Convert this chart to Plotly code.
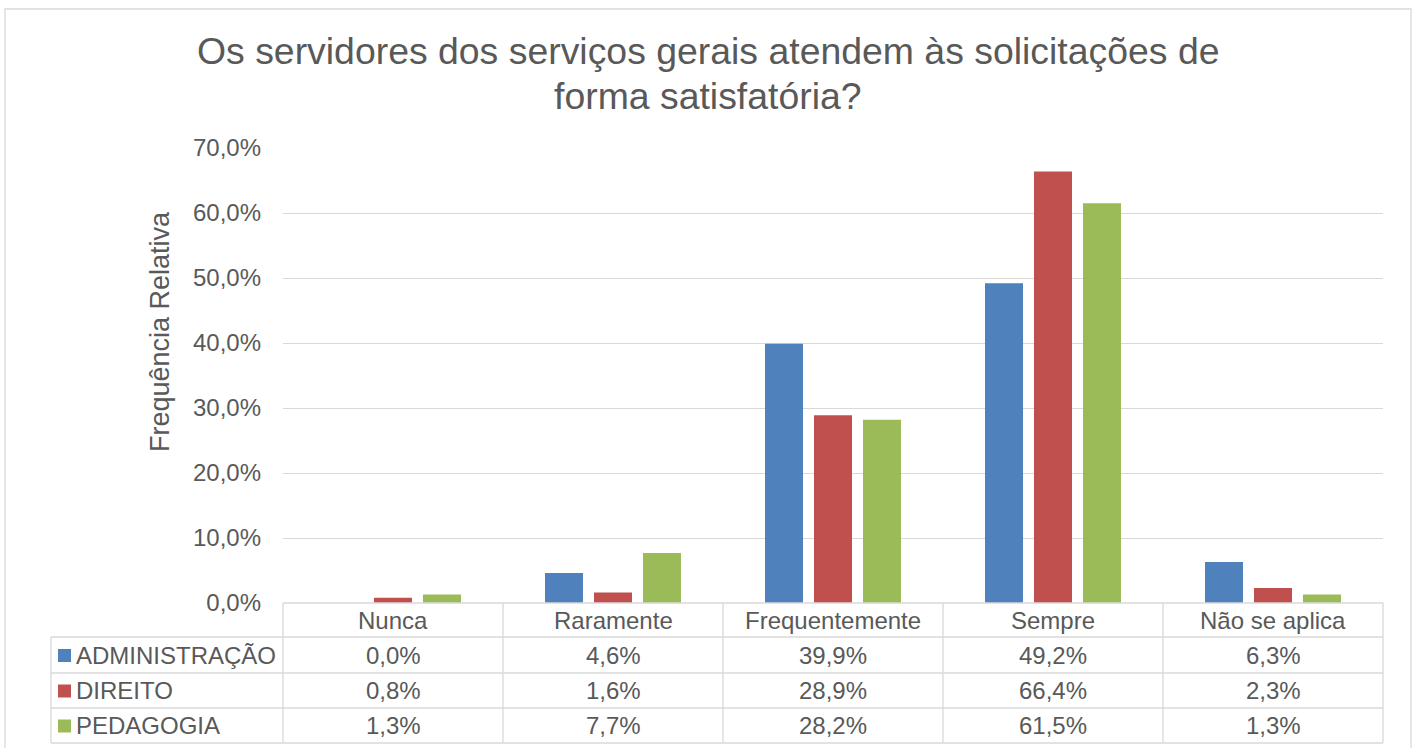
import plotly.graph_objects as go

categories = ["Nunca", "Raramente", "Frequentemente", "Sempre", "Não se aplica"]
series_names = ["ADMINISTRAÇÃO", "DIREITO", "PEDAGOGIA"]
administracao = [0.0, 4.6, 39.9, 49.2, 6.3]
direito = [0.8, 1.6, 28.9, 66.4, 2.3]
pedagogia = [1.3, 7.7, 28.2, 61.5, 1.3]
colors = ["#4F81BD", "#C0504D", "#9BBB59"]
title_lines = ["Os servidores dos serviços gerais atendem às solicitações de",
               "forma satisfatória?"]
y_title = "Frequência Relativa"

series_values = [administracao, direito, pedagogia]

W, H = 1416, 748
L, R, T, B = 283, 1383, 148, 603
FONT = "Liberation Sans, Arial, sans-serif"
TXT = "#595959"
GRID = "#D9D9D9"


def px(x):
    return (x - L) / (R - L)


def py(y):
    return (B - y) / (B - T)


def pct(v):
    return f"{v:.1f}".replace(".", ",") + "%"


fig = go.Figure()
for name, vals, col in zip(series_names, series_values, colors):
    fig.add_trace(go.Bar(x=categories, y=vals, name=name, marker_color=col,
                         marker_line_width=0))

shapes = []
ann = []

# table grid
row_y = [603, 637, 673, 708, 743]
line = dict(color=GRID, width=1.3)
shapes.append(dict(type="line", xref="paper", yref="paper", x0=px(L), x1=px(R),
                   y0=py(row_y[0]), y1=py(row_y[0]), line=line))
for yy in row_y[1:]:
    shapes.append(dict(type="line", xref="paper", yref="paper", x0=px(51), x1=px(R),
                       y0=py(yy), y1=py(yy), line=line))
for i in range(len(categories) + 1):
    xx = L + i * (R - L) / len(categories)
    shapes.append(dict(type="line", xref="paper", yref="paper", x0=px(xx), x1=px(xx),
                       y0=py(row_y[0]), y1=py(row_y[-1]), line=line))
shapes.append(dict(type="line", xref="paper", yref="paper", x0=px(51), x1=px(51),
                   y0=py(row_y[1]), y1=py(row_y[-1]), line=line))

# outer chart border
shapes.append(dict(type="rect", xref="paper", yref="paper", x0=px(5), x1=px(1411),
                   y0=py(9), y1=py(760), line=dict(color=GRID, width=1.3)))

tfont = dict(size=24, color=TXT, family=FONT)
for c in categories:
    ann.append(dict(x=c, xref="x", y=py((row_y[0] + row_y[1]) / 2), yref="paper",
                    xanchor="center", yanchor="middle",
                    text=c, showarrow=False, font=tfont))

for r, (name, vals, col) in enumerate(zip(series_names, series_values, colors)):
    yc = (row_y[r + 1] + row_y[r + 2]) / 2
    shapes.append(dict(type="rect", xref="paper", yref="paper", x0=px(58), x1=px(71),
                       y0=py(yc - 6), y1=py(yc + 7), fillcolor=col, line_width=0))
    ann.append(dict(x=px(74), xref="paper", y=py(yc), yref="paper", text=name,
                    xanchor="left", yanchor="middle", showarrow=False, font=tfont))
    for c, v in zip(categories, vals):
        ann.append(dict(x=c, xref="x", y=py(yc), yref="paper", text=pct(v),
                        xanchor="center", yanchor="middle",
                        showarrow=False, font=tfont))

ann.append(dict(x=px(160), xref="paper", y=py(332), yref="paper",
                xanchor="center", yanchor="middle",
                text=y_title, textangle=-90, showarrow=False,
                font=dict(size=27, color=TXT, family=FONT)))

for i, t in enumerate(title_lines):
    ann.append(dict(x=px(708), xref="paper", y=py(51 + 45 * i), yref="paper",
                    xanchor="center", yanchor="middle", text=t, showarrow=False,
                    font=dict(size=37.4, color=TXT, family=FONT)))

fig.update_layout(
    width=W, height=H,
    margin=dict(l=L, r=W - R, t=T, b=H - B),
    paper_bgcolor="white", plot_bgcolor="white",
    barmode="group", bargap=0.332, bargroupgap=0.224,
    showlegend=False,
    separators=",.",
    xaxis=dict(showticklabels=False, showline=False, showgrid=False, ticks="",
               range=[-0.5, 4.5]),
    yaxis=dict(range=[0, 70], dtick=10, tickformat=".1f", ticksuffix="%",
               showgrid=True, gridcolor=GRID, gridwidth=1.3, zeroline=False,
               showline=False, ticks="", ticklabelstandoff=21,
               tickfont=tfont),
    shapes=shapes, annotations=ann,
    font=dict(family=FONT, color=TXT),
)

fig.write_html("out.html", config={"displayModeBar": False},
               post_script="document.body.style.margin='0';")
